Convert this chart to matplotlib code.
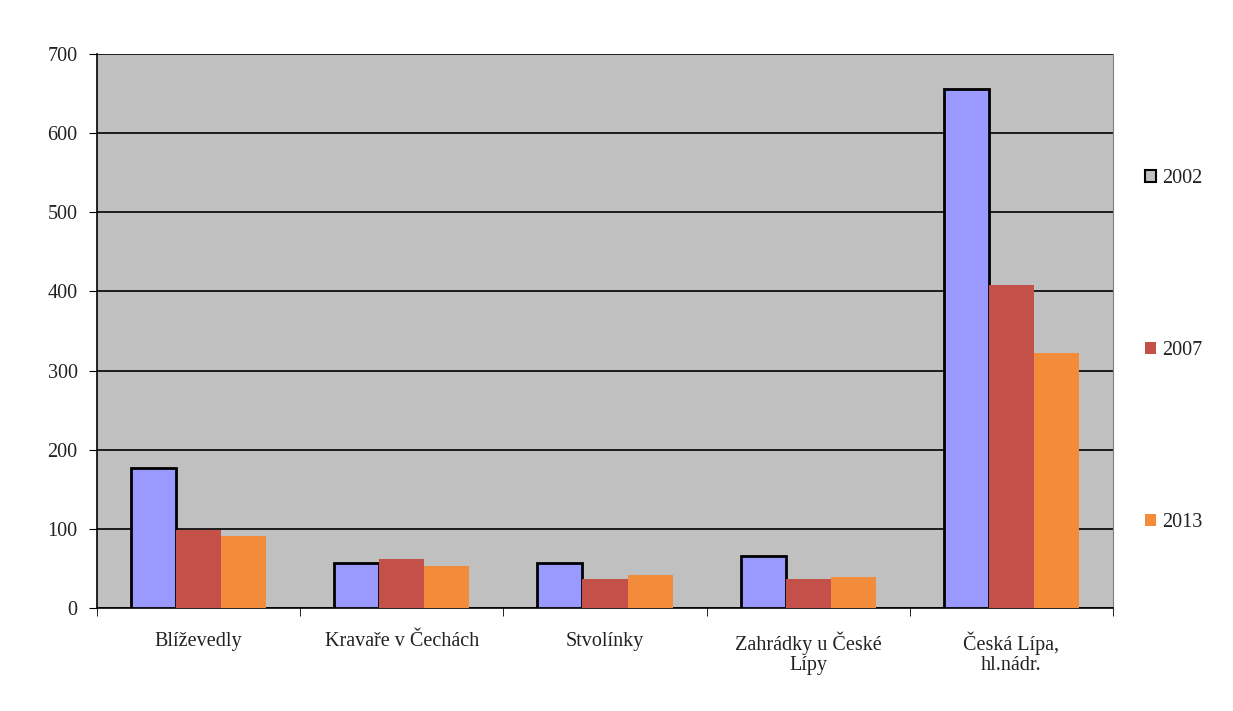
import matplotlib
matplotlib.use("Agg")
import matplotlib.pyplot as plt
import numpy as np
from matplotlib.patches import Patch

categories = ["Blíževedly", "Kravaře v Čechách", "Stvolínky", "Zahrádky u České\nLípy", "Česká Lípa,\nhl.nádr."]
years = ["2002", "2007", "2013"]
v2002 = [177, 57, 57, 66, 656]
v2007 = [98, 62, 37, 37, 408]
v2013 = [91, 53, 42, 39, 322]

colors = ["#9999FF", "#C4504A", "#F28C3A"]
edges = ["black", "none", "none"]

plt.rcParams['font.family'] = ['Liberation Serif', 'DejaVu Serif']

fig = plt.figure(figsize=(12.33, 7.11), dpi=100)
ax = fig.add_axes([0.0787, 0.1449, 0.9027 - 0.0787, 0.924 - 0.1449])
ax.set_facecolor("#C0C0C0")

x = np.arange(len(categories))
w = 0.222
series = [v2002, v2007, v2013]
for i, (vals, c, e) in enumerate(zip(series, colors, edges)):
    ax.bar(x + (i - 1) * w, vals, width=w, color=c, edgecolor=e,
           linewidth=2 if e != "none" else 0, zorder=3, label=years[i])

ax.set_xlim(-0.5, len(categories) - 0.5)
ax.set_ylim(0, 700)
ax.set_yticks(range(0, 701, 100))
ax.yaxis.grid(True, color="black", linewidth=1.2, zorder=1)
ax.set_axisbelow(True)
ax.tick_params(axis="y", labelsize=14.5, length=6, direction="out", colors="black",
               labelcolor="#222222", pad=8)

ax.set_xticks(x)
ax.set_xticklabels(categories, fontsize=14.5, linespacing=1.05, color="#222222")
ax.set_xticks(np.arange(-0.5, len(categories) + 0.5, 1), minor=True)
ax.tick_params(axis="x", which="major", length=0, pad=17)
ax.tick_params(axis="x", which="minor", length=6, direction="out")

ax.spines["top"].set_visible(False)
ax.spines["right"].set_color("#808080")
ax.spines["left"].set_color("black")
ax.spines["bottom"].set_color("black")
ax.spines["left"].set_linewidth(1.2)
ax.spines["bottom"].set_linewidth(1.2)

handles = [Patch(facecolor="#C0C0C0", edgecolor="black", linewidth=1.5),
           Patch(facecolor=colors[1], edgecolor="none"),
           Patch(facecolor=colors[2], edgecolor="none")]
fig.legend(handles, years, loc="upper left", bbox_to_anchor=(0.914, 0.788),
           frameon=False, fontsize=14.5, labelspacing=7.6, handlelength=0.55,
           handleheight=0.55, handletextpad=0.3, labelcolor="#222222")

fig.savefig("out.png", dpi=100, facecolor="white")
